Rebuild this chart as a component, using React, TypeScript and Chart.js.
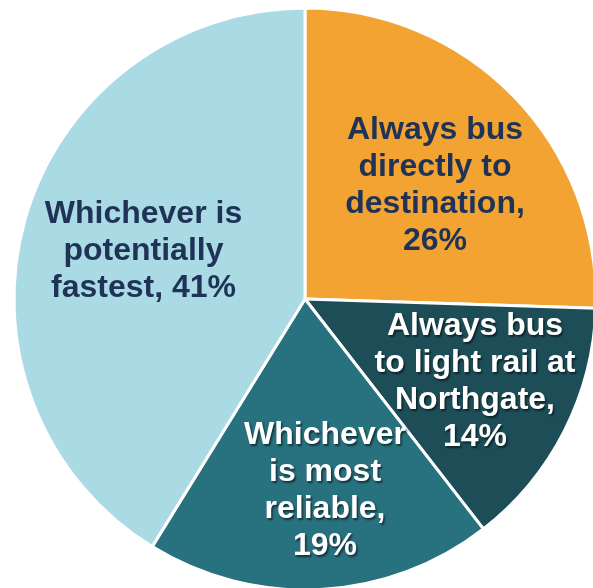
import React, { useEffect, useRef } from "react";
import { Chart, registerables } from "chart.js";

Chart.register(...registerables);

const categories = [
  ["Always bus", "directly to", "destination,", "26%"],
  ["Always bus", "to light rail at", "Northgate,", "14%"],
  ["Whichever", "is most", "reliable,", "19%"],
  ["Whichever is", "potentially", "fastest, 41%"],
];
const values = [25.5, 14.0, 19.3, 41.2];
const colors = ["#F3A332", "#1D4E58", "#28717E", "#AADAE4"];
const labelColors = ["#1F3357", "#FFFFFF", "#FFFFFF", "#1F3357"];
const labelRadius = [0.593, 0.65, 0.663, 0.579];
const labelAngleShift = [3.0, -1.0, -2.9, 0.7];

const labelPlugin = {
  id: "sliceLabels",
  afterDatasetsDraw(chart: any) {
    const ctx = chart.ctx;
    const meta = chart.getDatasetMeta(0);
    meta.data.forEach((arc: any, i: number) => {
      const p = arc.getProps(["x", "y", "startAngle", "endAngle", "outerRadius"], true);
      const mid = (p.startAngle + p.endAngle) / 2 + (labelAngleShift[i] * Math.PI) / 180;
      const r = p.outerRadius * labelRadius[i];
      const cx = p.x + Math.cos(mid) * r;
      const cy = p.y + Math.sin(mid) * r;
      const lines = categories[i];
      const lh = 37;
      ctx.save();
      ctx.font = "bold 32px 'Liberation Sans', Arial, sans-serif";
      ctx.textAlign = "center";
      ctx.textBaseline = "middle";
      ctx.fillStyle = labelColors[i];
      if (labelColors[i] === "#FFFFFF") {
        ctx.shadowColor = "rgba(0,0,0,0.55)";
        ctx.shadowOffsetX = 1.5;
        ctx.shadowOffsetY = 1.5;
        ctx.shadowBlur = 2;
      }
      lines.forEach((ln, j) => {
        const y = cy + (j - (lines.length - 1) / 2) * lh;
        ctx.fillText(ln, cx, y);
      });
      ctx.restore();
    });
  },
};

export default function App() {
  const ref = useRef<HTMLCanvasElement>(null);
  useEffect(() => {
    if (!ref.current) return;
    const chart = new Chart(ref.current, {
      type: "pie",
      data: {
        labels: categories.map((c) => c.join(" ")),
        datasets: [
          {
            data: values,
            backgroundColor: colors,
            borderColor: "#FFFFFF",
            borderWidth: 3,
          },
        ],
      },
      options: {
        animation: false,
        responsive: true,
        maintainAspectRatio: false,
        radius: 291,
        layout: { padding: 0 },
        plugins: {
          legend: { display: false },
          tooltip: { enabled: false },
        },
      },
      plugins: [labelPlugin],
    });
    return () => chart.destroy();
  }, []);
  return (
    <div
      style={{
        position: "fixed",
        left: 0,
        top: 0,
        width: 593,
        height: 588,
        overflow: "hidden",
        background: "#fff",
      }}
    >
      <div style={{ position: "absolute", left: 0, top: 0, width: 610, height: 598 }}>
        <canvas ref={ref} />
      </div>
    </div>
  );
}
